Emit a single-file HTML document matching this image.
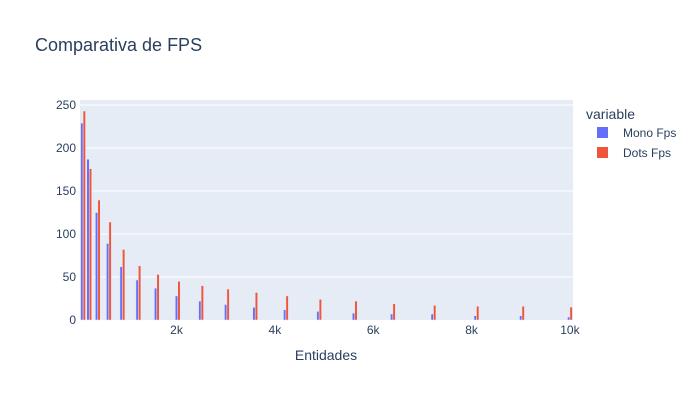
<!DOCTYPE html>
<html><head><meta charset="utf-8"><style>
body{margin:0;background:#fff;}
svg text{font-family:"Liberation Sans",sans-serif;}
</style></head><body>
<svg id="chart" width="697" height="400" xmlns="http://www.w3.org/2000/svg">
<rect width="697" height="400" fill="#fff"/>
<text x="35" y="51" font-size="18" fill="#2a3f5f">Comparativa de FPS</text>
<rect x="80" y="100" width="493" height="220" fill="#E5ECF6"/>
<g id="grid"></g><g id="bars"></g><g id="ticks"></g>
<text x="326" y="360" font-size="14" fill="#2a3f5f" text-anchor="middle">Entidades</text>
<g>
<text x="586" y="119" font-size="14" fill="#2a3f5f">variable</text>
<g><rect x="597" y="127" width="11" height="11" fill="#636efa"/><text x="623" y="137" font-size="12" fill="#2a3f5f">Mono Fps</text></g>
<g><rect x="597" y="147" width="11" height="11" fill="#EF553B"/><text x="623" y="157" font-size="12" fill="#2a3f5f">Dots Fps</text></g>
</g>
</svg>
<script>
const entidades=[100,225,400,625,900,1225,1600,2025,2500,3025,3600,4225,4900,5625,6400,7225,8100,9025,10000];
const monoFps=[229,187,125,89,62,46.5,37,28,22,18,14.7,12,10,8,7,7,5,5,3.5];
const dotsFps=[243,176,139.5,114,82,63,53,45,40,36,32,28,24,22,19,17,16,16,15];
const yTicks=[0,50,100,150,200,250];
const xTicks=[2000,4000,6000,8000,10000];
const xTickLabels=["2k","4k","6k","8k","10k"];
const NS="http://www.w3.org/2000/svg";
const x0=37.5,x1=10062.5,px0=80,px1=573;
const X=v=>px0+(v-x0)/(x1-x0)*(px1-px0);
const Y=v=>320-v*0.86;
function mk(tag,attrs,parent){const e=document.createElementNS(NS,tag);for(const k in attrs)e.setAttribute(k,attrs[k]);parent.appendChild(e);return e;}
const grid=document.getElementById('grid'),bars=document.getElementById('bars'),ticks=document.getElementById('ticks');
yTicks.forEach(t=>{
 if(t>0){const l=mk('line',{x1:px0,x2:px1,y1:Y(t),y2:Y(t),stroke:'#fff','stroke-width':1},grid);
 
 }
 const tx=mk('text',{x:76,y:Y(t)+4,'font-size':12,fill:'#2a3f5f','text-anchor':'end'},ticks);tx.textContent=t;
 
 
});
xTicks.forEach((t,i)=>{
 const tx=mk('text',{x:X(t),y:334,'font-size':12,fill:'#2a3f5f','text-anchor':'middle'},ticks);tx.textContent=xTickLabels[i];
 
 
});
const groupW=(X(225)-X(100))*0.8,bw=groupW/2;
entidades.forEach((e,i)=>{
 const c=X(e);
 const b1=mk('rect',{x:c-groupW/2,y:Y(monoFps[i]),width:bw,height:320-Y(monoFps[i]),fill:'#636efa',stroke:'#E5ECF6','stroke-width':0.5},bars);
 
 
 const b2=mk('rect',{x:c,y:Y(dotsFps[i]),width:bw,height:320-Y(dotsFps[i]),fill:'#EF553B',stroke:'#E5ECF6','stroke-width':0.5},bars);
 
 
});
</script>
</body></html>
